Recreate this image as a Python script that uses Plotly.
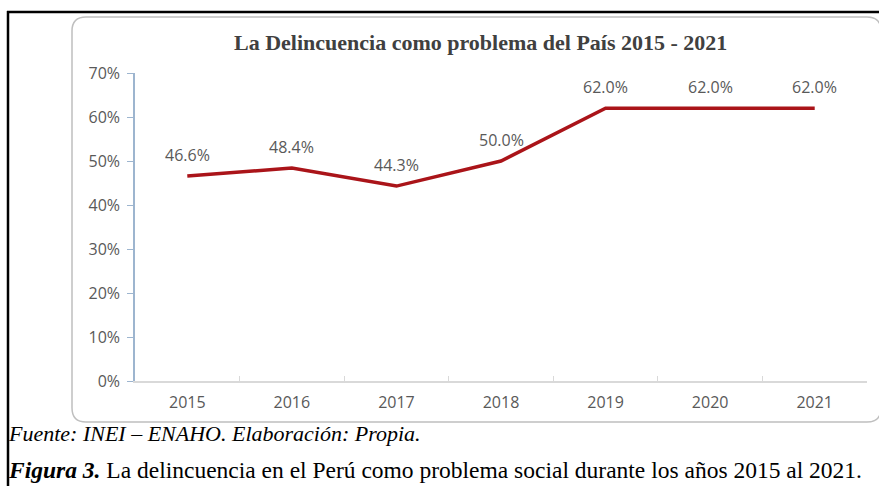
import plotly.graph_objects as go

years = ["2015", "2016", "2017", "2018", "2019", "2020", "2021"]
values = [0.466, 0.484, 0.443, 0.500, 0.620, 0.620, 0.620]
labels = ["46.6%", "48.4%", "44.3%", "50.0%", "62.0%", "62.0%", "62.0%"]

W, H = 879, 486

def px(x):
    return x / W

def py(y):
    return 1 - y / H

fig = go.Figure()
fig.add_trace(go.Scatter(
    x=years, y=values, mode="lines",
    line=dict(color="#AA1419", width=3.5),
    hoverinfo="skip", showlegend=False,
))

annotations = []
for i, (v, t) in enumerate(zip(values, labels)):
    annotations.append(dict(
        x=i, y=v, xref="x", yref="y", text=t, showarrow=False,
        yshift=21, font=dict(family="Open Sans", size=16, color="#595959"),
    ))

annotations.append(dict(
    x=px(480), y=py(43), xref="paper", yref="paper",
    text="<b>La Delincuencia como problema del País 2015 - 2021</b>",
    showarrow=False, xanchor="center", yanchor="middle",
    font=dict(family="Liberation Serif", size=22, color="#404040"),
))
annotations.append(dict(
    x=px(6), y=py(433), xref="paper", yref="paper",
    text="<i>Fuente: INEI – ENAHO. Elaboración: Propia.</i>",
    showarrow=False, xanchor="left", yanchor="middle",
    font=dict(family="Liberation Serif", size=22, color="#000000"),
))
annotations.append(dict(
    x=px(6), y=py(470), xref="paper", yref="paper",
    text="<b><i>Figura 3.</i></b> La delincuencia en el Perú como problema social durante los años 2015 al 2021.",
    showarrow=False, xanchor="left", yanchor="middle",
    font=dict(family="Liberation Serif", size=23.5, color="#000000"),
))

# rounded chart box path in paper coordinates
x0, x1, y0, y1, r = 72, 881, 17, 422, 14
path = (
    f"M {px(x0 + r)} {py(y0)} L {px(x1 - r)} {py(y0)} "
    f"Q {px(x1)} {py(y0)} {px(x1)} {py(y0 + r)} "
    f"L {px(x1)} {py(y1 - r)} Q {px(x1)} {py(y1)} {px(x1 - r)} {py(y1)} "
    f"L {px(x0 + r)} {py(y1)} Q {px(x0)} {py(y1)} {px(x0)} {py(y1 - r)} "
    f"L {px(x0)} {py(y0 + r)} Q {px(x0)} {py(y0)} {px(x0 + r)} {py(y0)} Z"
)

shapes = [
    dict(type="path", path=path, xref="paper", yref="paper",
         line=dict(color="#BFBFBF", width=1.5), layer="below"),
    dict(type="line", xref="paper", yref="paper", x0=px(7), x1=px(880),
         y0=py(12), y1=py(12), line=dict(color="#000000", width=2.5)),
    dict(type="line", xref="paper", yref="paper", x0=px(8), x1=px(8),
         y0=py(11), y1=py(487), line=dict(color="#000000", width=2.5)),
]

fig.update_layout(
    template="none",
    width=W, height=H, autosize=False,
    margin=dict(l=0, r=0, t=0, b=0, pad=0, autoexpand=False),
    paper_bgcolor="white", plot_bgcolor="white",
    annotations=annotations, shapes=shapes,
    xaxis=dict(
        type="category", domain=[px(135), px(867)], range=[-0.5, 6.5],
        automargin=False,
        showgrid=False, zeroline=False, showline=True,
        linecolor="#D9D9D9", linewidth=1.5,
        ticks="inside", tickson="boundaries", ticklen=5, tickcolor="#D9D9D9",
        tickfont=dict(family="Open Sans", size=16, color="#595959"),
        ticklabelstandoff=6,
    ),
    yaxis=dict(
        domain=[py(381), py(73)], range=[0, 0.7], dtick=0.1,
        automargin=False,
        tickformat=".0%", showgrid=False, zeroline=False, showline=True,
        linecolor="#9DB5CF", linewidth=1.5,
        ticks="outside", ticklen=6, tickcolor="#9DB5CF",
        tickfont=dict(family="Open Sans", size=16, color="#595959"),
        ticklabelstandoff=4,
    ),
)

fig.write_html(
    "out.html",
    config={"displayModeBar": False},
    post_script=(
        "document.documentElement.style.overflow='hidden';"
        "document.body.style.margin='0';document.body.style.overflow='hidden';"
        "var d=document.getElementById('{plot_id}');"
        "d.style.position='fixed';d.style.top='0px';d.style.left='0px';"
    ),
)
